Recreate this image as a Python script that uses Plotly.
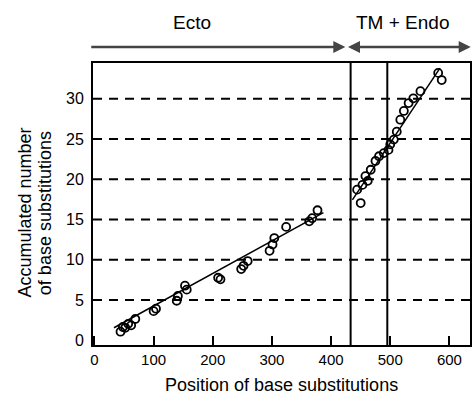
import plotly.graph_objects as go

# Ecto domain substitutions (position, accumulated count)
ecto_x = [44, 48, 52, 57, 62, 69, 100, 104, 139, 141, 153, 156, 209, 213, 248, 252, 259, 296, 301, 304, 324, 363, 368, 377]
ecto_y = [1.05, 1.64, 1.54, 2.03, 1.84, 2.63, 3.61, 3.91, 4.9, 5.49, 6.77, 6.28, 7.76, 7.56, 8.84, 9.24, 9.83, 11.11, 11.9, 12.69, 14.08, 14.77, 15.16, 16.15]

# TM + Endo domain substitutions
endo_x = [444, 450, 453, 458, 462, 467, 475, 481, 489, 497, 500, 506, 511, 517, 523, 531, 539, 551, 581, 587]
endo_y = [18.71, 17.04, 19.3, 20.39, 19.8, 21.18, 22.27, 22.86, 23.25, 23.65, 24.34, 24.93, 25.92, 27.4, 28.49, 29.47, 30.06, 30.95, 33.22, 32.33]

# Fitted lines (end points)
ecto_fit_x = [33, 387]
ecto_fit_y = [1.54, 15.85]
endo_fit_x = [436, 584]
endo_fit_y = [17.43, 33.82]

# Domain boundaries
boundary_x = [433, 495]

x_ticks = [0, 100, 200, 300, 400, 500, 600]
y_ticks = [0, 5, 10, 15, 20, 25, 30]
grid_y = [5, 10, 15, 20, 25, 30]

font = "Liberation Sans, Arial, sans-serif"

fig = go.Figure()

for gy in grid_y:
    fig.add_shape(type="line", xref="paper", yref="y", x0=0, x1=1, y0=gy, y1=gy,
                  line=dict(color="black", width=2, dash="9px,7px"), layer="below")

for bx in boundary_x:
    fig.add_shape(type="line", xref="x", yref="paper", x0=bx, x1=bx, y0=0, y1=1,
                  line=dict(color="black", width=2))

fig.add_trace(go.Scatter(x=ecto_fit_x, y=ecto_fit_y, mode="lines",
                         line=dict(color="black", width=1.5), showlegend=False))
fig.add_trace(go.Scatter(x=endo_fit_x, y=endo_fit_y, mode="lines",
                         line=dict(color="black", width=1.5), showlegend=False))
fig.add_trace(go.Scatter(x=ecto_x, y=ecto_y, mode="markers",
                         marker=dict(symbol="circle-open", size=8, color="black",
                                     line=dict(width=1.8, color="black")),
                         showlegend=False))
fig.add_trace(go.Scatter(x=endo_x, y=endo_y, mode="markers",
                         marker=dict(symbol="circle-open", size=8, color="black",
                                     line=dict(width=1.8, color="black")),
                         showlegend=False))

# Domain arrows above the plot
arrow_y = 1.057
fig.add_annotation(x=424, y=arrow_y, ax=-8, ay=0, xref="x", yref="paper",
                   axref="x", ayref="pixel", text="", showarrow=True,
                   arrowhead=2, arrowsize=1.0, arrowwidth=2.4, arrowcolor="#444")
fig.add_annotation(x=636, y=arrow_y, ax=426, ay=0, xref="x", yref="paper",
                   axref="x", ayref="pixel", text="", showarrow=True,
                   arrowhead=2, startarrowhead=2, arrowside="end+start",
                   arrowsize=1.0, startarrowsize=1.0, arrowwidth=2.4, arrowcolor="#444")
fig.add_annotation(x=165, y=1.145, xref="x", yref="paper", text="Ecto", showarrow=False,
                   yanchor="middle", font=dict(family=font, size=19, color="black"))
fig.add_annotation(x=521, y=1.145, xref="x", yref="paper", text="TM + Endo", showarrow=False,
                   yanchor="middle", font=dict(family=font, size=19, color="black"))

# Axis titles
fig.add_annotation(x=0.5, y=-0.141, xref="paper", yref="paper",
                   text="Position of base substitutions", showarrow=False,
                   xanchor="center", yanchor="middle",
                   font=dict(family=font, size=18, color="black"))
fig.add_annotation(x=-0.179, y=0.468, xref="paper", yref="paper",
                   text="Accumulated number", showarrow=False, textangle=-90,
                   xanchor="center", yanchor="middle",
                   font=dict(family=font, size=18, color="black"))
fig.add_annotation(x=-0.127, y=0.468, xref="paper", yref="paper",
                   text="of base substitutions", showarrow=False, textangle=-90,
                   xanchor="center", yanchor="middle",
                   font=dict(family=font, size=18, color="black"))

fig.update_layout(
    width=473, height=400,
    margin=dict(l=93, r=1, t=63, b=55),
    paper_bgcolor="white", plot_bgcolor="white",
    font=dict(family=font, size=16, color="black"),
    xaxis=dict(range=[-2.5, 634.8], tickvals=x_ticks, ticks="inside", ticklen=9,
               tickwidth=1.5, tickcolor="black", showgrid=False, zeroline=False,
               showline=True, linecolor="black", linewidth=2, mirror=True,
               ticklabelstandoff=0, tickfont=dict(size=15)),
    yaxis=dict(range=[-0.6, 34.45], tickvals=y_ticks, ticks="", showgrid=False,
               zeroline=False, showline=True, linecolor="black", linewidth=2, mirror=True,
               ticklabelstandoff=4, tickfont=dict(size=16)),
)

fig.write_html("out.html")
